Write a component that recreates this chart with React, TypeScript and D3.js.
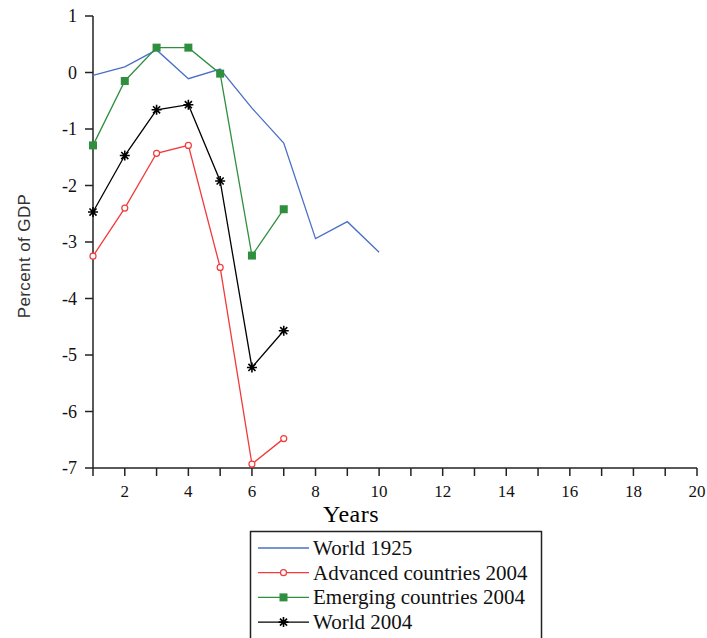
import React from "react";
import * as d3 from "d3";

const years = [1, 2, 3, 4, 5, 6, 7, 8, 9, 10];
const world1925 = [-0.05, 0.1, 0.4, -0.11, 0.06, -0.63, -1.25, -2.94, -2.64, -3.18];
const advanced2004 = [-3.25, -2.4, -1.43, -1.29, -3.45, -6.93, -6.48];
const emerging2004 = [-1.29, -0.15, 0.44, 0.44, -0.02, -3.24, -2.42];
const world2004 = [-2.47, -1.47, -0.66, -0.57, -1.92, -5.22, -4.57];

const xTicks = [2, 4, 6, 8, 10, 12, 14, 16, 18, 20];
const yTicks = [1, 0, -1, -2, -3, -4, -5, -6, -7];

const series = [
  { name: "World 1925", values: world1925, color: "#4a70c4", marker: "none" },
  { name: "Advanced countries 2004", values: advanced2004, color: "#f23a3a", marker: "circle" },
  { name: "Emerging countries 2004", values: emerging2004, color: "#2f8f3f", marker: "square" },
  { name: "World 2004", values: world2004, color: "#000000", marker: "star" },
];

const serif = "'Liberation Serif', 'Times New Roman', serif";
const sans = "'Liberation Sans', Arial, sans-serif";

const Marker = ({ type, x, y, color }: { type: string; x: number; y: number; color: string }) => {
  if (type === "circle") {
    return <circle cx={x} cy={y} r={3} fill="#fff" stroke={color} strokeWidth={1.2} />;
  }
  if (type === "square") {
    return <rect x={x - 4} y={y - 4} width={8} height={8} fill={color} />;
  }
  if (type === "star") {
    const r = 5;
    const d = [0, 45, 90, 135]
      .map((a) => {
        const rad = (a * Math.PI) / 180;
        const dx = Math.cos(rad) * r;
        const dy = Math.sin(rad) * r;
        return `M${x - dx},${y - dy}L${x + dx},${y + dy}`;
      })
      .join("");
    return <path d={d} stroke={color} strokeWidth={1.6} fill="none" />;
  }
  return null;
};

export default function App() {
  const x = d3.scaleLinear().domain([1, 20]).range([93, 697]);
  const y = d3.scaleLinear().domain([-7, 1]).range([468, 16]);
  const line = d3
    .line<number>()
    .x((_, i) => x(years[i]))
    .y((d) => y(d));

  const minorTicks = d3.range(1, 21);

  return (
    <svg
      width={707}
      height={638}
      style={{ position: "absolute", left: 0, top: 0, background: "#fff" }}
    >
      {/* axes */}
      <g stroke="#222" strokeWidth={1.5} fill="none">
        <line x1={x(1)} y1={y(1)} x2={x(1)} y2={y(-7)} />
        <line x1={x(1)} y1={y(-7)} x2={x(20)} y2={y(-7)} />
        {yTicks.map((t) => (
          <line key={t} x1={x(1) - 8} x2={x(1)} y1={y(t)} y2={y(t)} />
        ))}
        {minorTicks.map((t) => (
          <line key={t} x1={x(t)} x2={x(t)} y1={y(-7)} y2={y(-7) + 8} />
        ))}
      </g>
      {yTicks.map((t) => (
        <text
          key={t}
          x={x(1) - 16}
          y={y(t)}
          dy="0.35em"
          textAnchor="end"
          fontFamily={serif}
          fontSize={18}
          fill="#111"
        >
          {t}
        </text>
      ))}
      {xTicks.map((t) => (
        <text
          key={t}
          x={x(t)}
          y={y(-7) + 29}
          textAnchor="middle"
          fontFamily={serif}
          fontSize={17}
          fill="#111"
        >
          {t}
        </text>
      ))}
      <text
        transform="translate(30,256) rotate(-90)"
        textAnchor="middle"
        fontFamily={sans}
        fontSize={17}
        letterSpacing={0.4}
        fill="#333"
      >
        Percent of GDP
      </text>
      <text x={351} y={522} textAnchor="middle" fontFamily={serif} fontSize={24} letterSpacing={0.5} fill="#000">
        Years
      </text>

      {/* series */}
      {series.map((s) => (
        <g key={s.name}>
          <path d={line(s.values) || ""} fill="none" stroke={s.color} strokeWidth={1.3} />
          {s.values.map((v, i) => (
            <Marker key={i} type={s.marker} x={x(years[i])} y={y(v)} color={s.color} />
          ))}
        </g>
      ))}

      {/* legend */}
      <rect x={250.5} y={531.5} width={291} height={120} fill="#fff" stroke="#222" strokeWidth={1.5} />
      {series.map((s, i) => {
        const ly = 548 + i * 24.7;
        return (
          <g key={s.name}>
            <line x1={258} x2={309} y1={ly} y2={ly} stroke={s.color} strokeWidth={1.3} />
            <Marker type={s.marker} x={283.5} y={ly} color={s.color} />
            <text x={313} y={ly} dy="0.33em" fontFamily={serif} fontSize={21} fill="#111">
              {s.name}
            </text>
          </g>
        );
      })}
    </svg>
  );
}
